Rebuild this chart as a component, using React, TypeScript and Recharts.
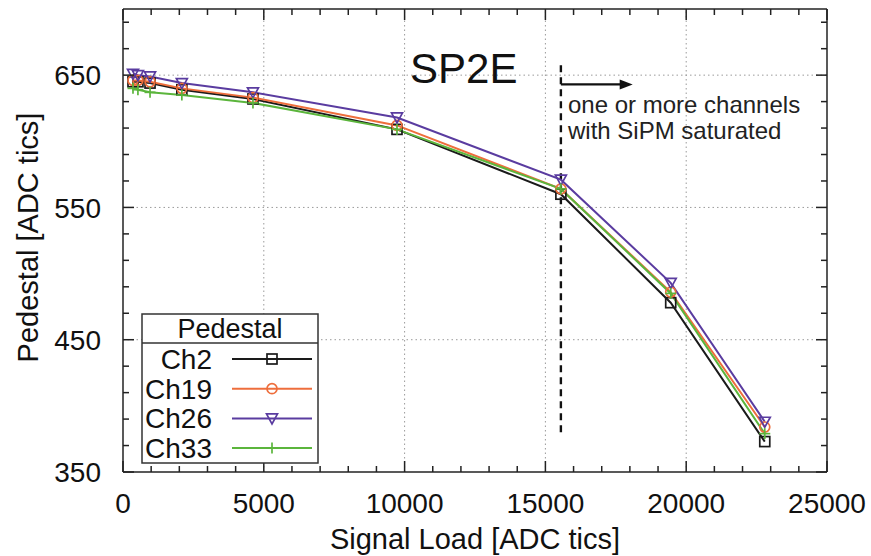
import * as React from 'react';
import {
  LineChart,
  Line,
  XAxis,
  YAxis,
  ReferenceLine,
} from 'recharts';

// signal load (x) and pedestal per channel
const signalLoad = [355, 530, 960, 2090, 4615, 9730, 15550, 19450, 22790];
const ch2 = [645, 645, 644, 639, 632, 609, 560, 478, 373];
const ch19 = [646, 646, 645, 640, 633, 612, 564, 486, 384];
const ch26 = [651, 650, 649, 644, 637, 618, 571, 493, 388];
const ch33 = [640, 639, 637, 635, 629, 609, 564, 485, 379];

const xTicks = Array.from({ length: 26 }, (_, i) => i * 1000);
const yTicks = Array.from({ length: 18 }, (_, i) => 350 + i * 20);
const xGrid = [5000, 10000, 15000, 20000];
const yGrid = [450, 550, 650];

// saturation marker
const saturationX = 15550;
const saturationY = [380, 661];
const arrowY = 643;
const arrowEndX = 18100;

const rows = signalLoad.map((x, i) => ({
  x,
  ch2: ch2[i],
  ch19: ch19[i],
  ch26: ch26[i],
  ch33: ch33[i],
}));

const FONT = '"Liberation Sans", Arial, sans-serif';
const AXIS = '#222';

const series = [
  { key: 'ch2', name: 'Ch2', color: '#1a1a1a', marker: 'square' },
  { key: 'ch19', name: 'Ch19', color: '#ee6e3c', marker: 'circle' },
  { key: 'ch26', name: 'Ch26', color: '#5a3ca0', marker: 'triangle' },
  { key: 'ch33', name: 'Ch33', color: '#5bb53c', marker: 'plus' },
];

function Marker({ type, cx, cy, color }: any) {
  if (cx == null || cy == null) return null;
  const common = { stroke: color, strokeWidth: 1.7, fill: 'none' };
  if (type === 'square') return <rect x={cx - 5} y={cy - 5} width={10} height={10} {...common} />;
  if (type === 'circle') return <circle cx={cx} cy={cy} r={5} {...common} />;
  if (type === 'triangle')
    return <polygon points={`${cx - 5.5},${cy - 4.5} ${cx + 5.5},${cy - 4.5} ${cx},${cy + 5.5}`} {...common} />;
  return (
    <g {...common}>
      <line x1={cx - 5.5} x2={cx + 5.5} y1={cy} y2={cy} />
      <line x1={cx} x2={cx} y1={cy - 5.5} y2={cy + 5.5} />
    </g>
  );
}

const BottomTick = ({ x, y, payload }: any) => {
  const major = payload.value % 5000 === 0;
  return (
    <g>
      <line x1={x} x2={x} y1={y} y2={y - (major ? 11 : 6)} stroke={AXIS} strokeWidth={1.5} />
      {major && (
        <text x={x} y={y + 41} textAnchor="middle" fontSize={28} fontFamily={FONT} fill="#111">
          {payload.value}
        </text>
      )}
    </g>
  );
};

const TopTick = ({ x, y, payload }: any) => {
  const major = payload.value % 5000 === 0;
  return <line x1={x} x2={x} y1={y} y2={y + (major ? 11 : 6)} stroke={AXIS} strokeWidth={1.5} />;
};

const LeftTick = ({ x, y, payload }: any) => {
  const major = (payload.value - 350) % 100 === 0;
  return (
    <g>
      <line x1={x} x2={x + (major ? 11 : 6)} y1={y} y2={y} stroke={AXIS} strokeWidth={1.5} />
      {major && (
        <text x={x - 22} y={y} dy="0.36em" textAnchor="end" fontSize={28} fontFamily={FONT} fill="#111">
          {payload.value}
        </text>
      )}
    </g>
  );
};

const RightTick = ({ x, y, payload }: any) => {
  const major = (payload.value - 350) % 100 === 0;
  return <line x1={x} x2={x - (major ? 11 : 6)} y1={y} y2={y} stroke={AXIS} strokeWidth={1.5} />;
};

const Arrow = (props: any) => {
  const { x1, y1, x2, y2 } = props;
  return (
    <g>
      <line x1={x1} y1={y1} x2={x2 - 8} y2={y2} stroke="#111" strokeWidth={2.2} />
      <polygon points={`${x2},${y2} ${x2 - 13},${y2 - 5} ${x2 - 13},${y2 + 5}`} fill="#111" />
    </g>
  );
};

function PedestalLegend() {
  const left = 142;
  const top = 314;
  const w = 176;
  const h = 149;
  return (
    <g fontFamily={FONT}>
      <rect x={left} y={top} width={w} height={h} fill="#fff" stroke="#333" strokeWidth={1.5} />
      <line x1={left} x2={left + w} y1={top + 29} y2={top + 29} stroke="#333" strokeWidth={1.5} />
      <text x={left + w / 2} y={top + 24} textAnchor="middle" fontSize={27} fill="#111">
        Pedestal
      </text>
      {series.map((s, i) => {
        const cy = 359 + i * 29.7;
        return (
          <g key={s.key}>
            <text x={212} y={cy} dy="0.36em" textAnchor="end" fontSize={28} fill="#111">
              {s.name}
            </text>
            <line x1={232} x2={312} y1={cy} y2={cy} stroke={s.color} strokeWidth={2} />
            <Marker type={s.marker} cx={272} cy={cy} color={s.color} />
          </g>
        );
      })}
    </g>
  );
}

export default function App() {
  return (
    <div style={{ position: 'absolute', left: 0, top: 0, width: 871, height: 556, background: '#fff' }}>
      <LineChart width={871} height={556} data={rows} margin={{ top: 8, right: 43, left: 0, bottom: 0 }}>
        <XAxis
          dataKey="x"
          type="number"
          domain={[0, 25000]}
          ticks={xTicks}
          interval={0}
          allowDataOverflow
          height={84}
          tickSize={0}
          tickMargin={0}
          tickLine={false}
          tick={BottomTick}
          axisLine={{ stroke: AXIS, strokeWidth: 1.5 }}
          label={{
            content: ({ viewBox }: any) => (
              <text
                x={viewBox.x + viewBox.width / 2}
                y={549}
                textAnchor="middle"
                fontSize={29}
                fontFamily={FONT}
                fill="#111"
              >
                Signal Load [ADC tics]
              </text>
            ),
          }}
        />
        <XAxis
          xAxisId="top"
          orientation="top"
          dataKey="x"
          type="number"
          domain={[0, 25000]}
          ticks={xTicks}
          interval={0}
          allowDataOverflow
          height={1}
          tickSize={0}
          tickMargin={0}
          tickLine={false}
          tick={TopTick}
          axisLine={{ stroke: AXIS, strokeWidth: 1.5 }}
        />
        <YAxis
          type="number"
          domain={[350, 700]}
          ticks={yTicks}
          interval={0}
          allowDataOverflow
          width={123}
          tickSize={0}
          tickMargin={0}
          tickLine={false}
          tick={LeftTick}
          axisLine={{ stroke: AXIS, strokeWidth: 1.5 }}
          label={{
            content: ({ viewBox }: any) => {
              const cy = viewBox.y + viewBox.height / 2 - 3;
              return (
                <text
                  x={28}
                  y={cy}
                  transform={`rotate(-90, 28, ${cy})`}
                  textAnchor="middle"
                  dy="0.36em"
                  fontSize={29}
                  fontFamily={FONT}
                  fill="#111"
                >
                  Pedestal [ADC tics]
                </text>
              );
            },
          }}
        />
        <YAxis
          yAxisId="right"
          orientation="right"
          type="number"
          domain={[350, 700]}
          ticks={yTicks}
          interval={0}
          allowDataOverflow
          width={1}
          tickSize={0}
          tickMargin={0}
          tickLine={false}
          tick={RightTick}
          axisLine={{ stroke: AXIS, strokeWidth: 1.5 }}
        />

        {xGrid.map((v) => (
          <ReferenceLine key={`gx${v}`} x={v} stroke="#9a9a9a" strokeDasharray="1.5 3" />
        ))}
        {yGrid.map((v) => (
          <ReferenceLine key={`gy${v}`} y={v} stroke="#9a9a9a" strokeDasharray="1.5 3" />
        ))}

        <ReferenceLine
          segment={[
            { x: saturationX, y: saturationY[0] },
            { x: saturationX, y: saturationY[1] },
          ]}
          stroke="#111"
          strokeWidth={2.4}
          strokeDasharray="7 5"
        />
        <ReferenceLine
          segment={[
            { x: saturationX, y: arrowY },
            { x: arrowEndX, y: arrowY },
          ]}
          stroke="#111"
          shape={Arrow}
        />

        {series.map((s) => (
          <Line
            key={s.key}
            dataKey={s.key}
            name={s.name}
            stroke={s.color}
            strokeWidth={2}
            isAnimationActive={false}
            dot={(p: any) => <Marker key={`${s.key}-${p.index}`} type={s.marker} cx={p.cx} cy={p.cy} color={s.color} />}
          />
        ))}
        {/* invisible series so the top and right frame axes get rendered */}
        <Line
          xAxisId="top"
          yAxisId="right"
          dataKey="ch2"
          stroke="none"
          dot={false}
          legendType="none"
          isAnimationActive={false}
        />
      </LineChart>

      <svg width={871} height={556} style={{ position: 'absolute', left: 0, top: 0, pointerEvents: 'none' }}>
        <text x={410} y={83} fontSize={42} fontFamily={FONT} fill="#111">
          SP2E
        </text>
        <text x={568} y={113} fontSize={24} fontFamily={FONT} fill="#222">
          one or more channels
        </text>
        <text x={568} y={139} fontSize={24} fontFamily={FONT} fill="#222">
          with SiPM saturated
        </text>
        <PedestalLegend />
      </svg>
    </div>
  );
}
